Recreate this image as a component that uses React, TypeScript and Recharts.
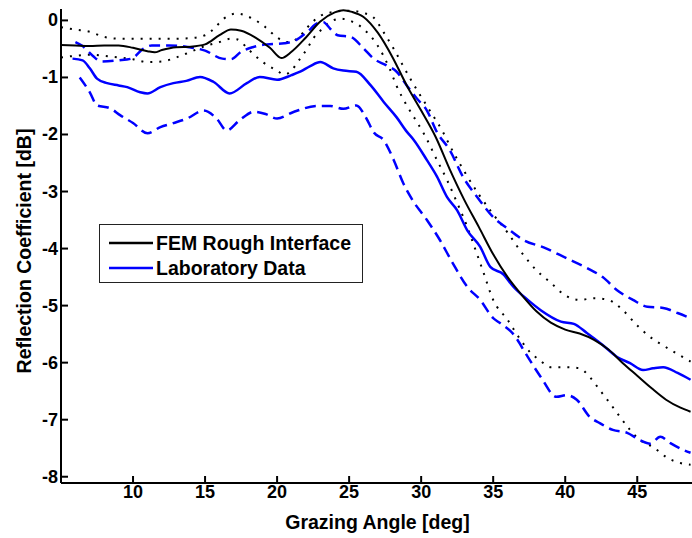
import React from 'react';
import { LineChart, Line, XAxis, YAxis, Legend, Label } from 'recharts';

// ---- data: [grazing angle (deg), reflection coefficient (dB)] ----
const femMean: number[][] = [
  [5, -0.43], [6, -0.44], [7, -0.45], [8, -0.44], [9, -0.44], [10, -0.48], [11, -0.54], [11.5, -0.56],
  [12, -0.52], [13, -0.47], [14, -0.46], [15, -0.42], [16, -0.26], [16.8, -0.16], [17.5, -0.18],
  [18.5, -0.3], [19.5, -0.48], [20.3, -0.66], [21, -0.55], [22, -0.3], [23, -0.02], [24, 0.14],
  [24.6, 0.18], [25.2, 0.15], [26, 0.06], [27, -0.22], [28, -0.64], [29, -1.14], [30, -1.58],
  [31, -2.04], [32, -2.62], [33, -3.15], [34, -3.62], [35, -4.1], [36, -4.5], [37, -4.82],
  [38, -5.1], [39, -5.3], [40, -5.42], [41, -5.49], [42, -5.6], [43, -5.77], [44, -6.01],
  [45, -6.23], [46, -6.45], [47, -6.65], [48, -6.79], [48.7, -6.86],
];
const femUpper: number[][] = [
  [5, -0.12], [6, -0.16], [7, -0.2], [8, -0.29], [9, -0.32], [11, -0.32], [13, -0.32], [14, -0.31],
  [15, -0.26], [15.6, -0.15], [16.3, 0.03], [17.2, 0.12], [18.3, 0.03], [19.2, -0.12], [20, -0.3],
  [20.7, -0.38], [21.5, -0.3], [22, -0.15], [22.5, -0.02], [23, 0.08], [24, 0.15], [25, 0.17],
  [26, 0.13], [26.7, 0.05], [27.4, -0.21], [28.1, -0.5], [28.75, -0.8], [29.4, -1.09], [30.1, -1.38],
  [30.8, -1.66], [31.5, -1.95], [32, -2.2], [33, -2.65], [34, -3.05], [35, -3.4], [36, -3.72],
  [37, -4.08], [38, -4.38], [39, -4.6], [40, -4.82], [41, -4.9], [42, -4.87], [43, -4.9],
  [44, -5.08], [45, -5.35], [46, -5.57], [47, -5.73], [48, -5.88], [48.7, -5.98],
];
const femLower: number[][] = [
  [5, -0.65], [6, -0.62], [7, -0.6], [8, -0.62], [9, -0.65], [10, -0.68], [11, -0.73], [12, -0.72],
  [13, -0.65], [14, -0.55], [15, -0.45], [16, -0.38], [16.8, -0.32], [17.2, -0.33], [18.1, -0.53],
  [19, -0.73], [20, -0.88], [20.5, -0.95], [21, -0.88], [21.4, -0.74], [22.1, -0.49], [22.5, -0.32],
  [23, -0.18], [23.5, -0.06], [24.4, 0.03], [25, 0.0], [26, -0.15], [27, -0.45], [27.8, -0.84],
  [28.3, -1.15], [29, -1.49], [29.7, -1.78], [30.2, -1.99], [31.1, -2.45], [31.8, -2.8],
  [32.5, -3.2], [33.2, -3.62], [33.6, -3.9], [34.3, -4.4], [35, -4.9], [36, -5.25], [36.9, -5.6],
  [37.6, -5.83], [38.2, -5.95], [39, -6.08], [40.1, -6.08], [41, -6.1], [41.7, -6.25], [42.4, -6.48],
  [43.1, -6.71], [43.8, -6.95], [44.5, -7.18], [45.2, -7.36], [46.1, -7.48], [47.1, -7.67],
  [48, -7.76], [48.7, -7.79],
];
const labMean: number[][] = [
  [5.8, -0.67], [6.5, -0.7], [7, -0.84], [7.5, -1.02], [8.2, -1.1], [9, -1.14], [9.6, -1.17],
  [10.5, -1.26], [11, -1.28], [11.9, -1.17], [12.8, -1.1], [13.7, -1.06], [14.65, -0.99],
  [15.6, -1.08], [16.7, -1.28], [17.9, -1.1], [18.8, -0.99], [20, -1.04], [21, -0.96], [21.6, -0.9],
  [22.3, -0.8], [23, -0.73], [23.9, -0.84], [24.6, -0.88], [25.5, -0.9], [26.5, -1.14],
  [27.4, -1.43], [28.3, -1.7], [29, -1.95], [29.5, -2.1], [30.4, -2.45], [31.1, -2.74],
  [31.8, -3.1], [32.5, -3.33], [33.2, -3.68], [34.1, -3.97], [34.8, -4.32], [35.7, -4.45],
  [36.4, -4.67], [37.4, -4.9], [38.3, -5.08], [39.7, -5.28], [40.6, -5.32], [41.5, -5.48],
  [42.6, -5.69], [43.6, -5.9], [44.5, -6.01], [45.4, -6.13], [46.1, -6.1], [46.8, -6.08],
  [47.8, -6.18], [48.7, -6.3],
];
const labUpper: number[][] = [
  [6, -0.38], [6.5, -0.45], [7.2, -0.62], [7.8, -0.72], [9, -0.7], [9.9, -0.67], [10.7, -0.5],
  [11.3, -0.44], [12.5, -0.44], [13.9, -0.47], [15, -0.53], [16.2, -0.67], [16.8, -0.68],
  [17.5, -0.55], [18.3, -0.47], [19.3, -0.42], [20.5, -0.4], [21.2, -0.36], [22.1, -0.2],
  [22.8, -0.05], [23.2, -0.03], [23.7, -0.15], [24.2, -0.26], [25.1, -0.29], [26, -0.49],
  [26.7, -0.67], [27.6, -0.79], [28.3, -0.9], [29, -1.14], [29.7, -1.37], [30.4, -1.58],
  [31.1, -1.96], [32, -2.28], [32.9, -2.74], [33.9, -3.1], [35, -3.45], [36, -3.65], [37.1, -3.85],
  [38.5, -3.98], [40.1, -4.17], [41.5, -4.34], [42.6, -4.5], [43.6, -4.73], [44.7, -4.9],
  [45.7, -5.02], [46.8, -5.04], [47.8, -5.13], [48.7, -5.22],
];
const labLower: number[][] = [
  [6.3, -1.0], [7, -1.26], [7.5, -1.49], [8.4, -1.54], [9.1, -1.66], [10, -1.8], [11, -1.98],
  [11.9, -1.87], [12.8, -1.8], [13.75, -1.72], [14.9, -1.58], [15.8, -1.72], [16.5, -1.93],
  [17.4, -1.75], [18.4, -1.6], [19.2, -1.64], [20, -1.72], [21.1, -1.61], [22.8, -1.5],
  [23.7, -1.5], [24.6, -1.55], [25.5, -1.49], [26.2, -1.72], [26.7, -1.96], [27.4, -2.1],
  [28.1, -2.45], [28.75, -2.85], [29.4, -3.15], [30.4, -3.5], [31.3, -3.85], [32.2, -4.26],
  [33.2, -4.67], [34.1, -4.9], [35, -5.22], [35.5, -5.31], [36.4, -5.5], [37.4, -5.9],
  [38.3, -6.25], [39.4, -6.6], [40.1, -6.57], [40.8, -6.65], [41.7, -6.95], [42.4, -7.06],
  [43.3, -7.18], [44.3, -7.23], [45.2, -7.36], [45.9, -7.42], [46.6, -7.3], [47.3, -7.41],
  [48.2, -7.53], [48.7, -7.58],
];

const xTicks = [10, 15, 20, 25, 30, 35, 40, 45];
const yTicks = [0, -1, -2, -3, -4, -5, -6, -7, -8];
const legendItems = [
  { name: 'FEM Rough Interface', color: '#000000' },
  { name: 'Laboratory Data', color: '#0000ff' },
];
const xLabel = 'Grazing Angle [deg]';
const yLabel = 'Reflection Coefficient [dB]';

// ---- styling ----
const FONT = '"Liberation Sans", Arial, Helvetica, sans-serif';
const BLUE = '#0000ff';
const BLACK = '#000000';

const toPts = (a: number[][]) => a.map(([angle, db]) => ({ angle, db }));

const BottomTick = (p: any) => (
  <g>
    <line x1={p.x} x2={p.x} y1={p.y} y2={p.y - 7} stroke={BLACK} strokeWidth={2} />
    <text x={p.x} y={p.y + 15} textAnchor="middle" fontFamily={FONT} fontSize={18} fontWeight="bold" fill={BLACK}>
      {p.payload.value}
    </text>
  </g>
);
const TopTick = (p: any) => (
  <line x1={p.x} x2={p.x} y1={p.y} y2={p.y + 7} stroke={BLACK} strokeWidth={2} />
);
const LeftTick = (p: any) => (
  <g>
    <line x1={p.x} x2={p.x + 7} y1={p.y} y2={p.y} stroke={BLACK} strokeWidth={2} />
    <text x={p.x - 3} y={p.y + 6} textAnchor="end" fontFamily={FONT} fontSize={18} fontWeight="bold" fill={BLACK}>
      {String(p.payload.value)}
    </text>
  </g>
);

const XLabelContent = (props: any) => {
  const vb = props.viewBox || { x: 61, width: 631, y: 483 };
  return (
    <text x={vb.x + vb.width / 2 + 1} y={529} textAnchor="middle" fontFamily={FONT} fontSize={19.5} fontWeight="bold" fill={BLACK}>
      {xLabel}
    </text>
  );
};
const YLabelContent = () => (
  <text x={31} y={251} transform="rotate(-90 31 251)" textAnchor="middle" fontFamily={FONT} fontSize={19.5} fontWeight="bold" fill={BLACK}>
    {yLabel}
  </text>
);

const LegendBox = () => (
  <div
    style={{
      width: 264,
      height: 59,
      boxSizing: 'border-box',
      border: '1px solid #222',
      background: '#fff',
      position: 'relative',
      fontFamily: FONT,
      fontWeight: 'bold',
      fontSize: 19.5,
      color: '#000',
    }}
  >
    {legendItems.map((it, i) => (
      <div
        key={it.name}
        style={{ position: 'absolute', left: 8, top: (i === 0 ? 18 : 43) - 12, height: 24, display: 'flex', alignItems: 'center', whiteSpace: 'nowrap' }}
      >
        <svg width={46} height={24} style={{ display: 'block' }}>
          <line x1={1} x2={45} y1={12} y2={12} stroke={it.color} strokeWidth={2.5} />
        </svg>
        <span style={{ marginLeft: 2, lineHeight: '24px' }}>{it.name}</span>
      </div>
    ))}
  </div>
);

export default function App() {
  return (
    <div style={{ position: 'absolute', left: 0, top: 0, width: 692, height: 538, overflow: 'hidden', background: '#fff' }}>
      <LineChart width={692} height={538} margin={{ top: 9, right: 0, bottom: 0, left: 0 }}>
        <XAxis
          xAxisId="b"
          dataKey="angle"
          type="number"
          domain={[5, 48.8]}
          allowDataOverflow
          ticks={xTicks}
          interval={0}
          height={55}
          tickSize={0}
          tickMargin={0}
          tickLine={false}
          axisLine={{ stroke: BLACK, strokeWidth: 2 }}
          tick={<BottomTick />}
        >
          <Label content={XLabelContent} />
        </XAxis>
        <XAxis
          xAxisId="t"
          orientation="top"
          dataKey="angle"
          type="number"
          domain={[5, 48.8]}
          allowDataOverflow
          ticks={xTicks}
          interval={0}
          height={0}
          tickSize={0}
          tickMargin={0}
          tickLine={false}
          axisLine={{ stroke: BLACK, strokeWidth: 2 }}
          tick={<TopTick />}
        />
        <YAxis
          yAxisId="l"
          dataKey="db"
          type="number"
          domain={[-8.11, 0.2]}
          allowDataOverflow
          ticks={yTicks}
          interval={0}
          width={61}
          tickSize={0}
          tickMargin={0}
          tickLine={false}
          axisLine={{ stroke: BLACK, strokeWidth: 2 }}
          tick={<LeftTick />}
        >
          <Label content={YLabelContent} />
        </YAxis>
        <Legend
          verticalAlign="middle"
          align="center"
          layout="horizontal"
          wrapperStyle={{ left: 99, top: 224, width: 264, height: 59 }}
          content={LegendBox}
        />
        <Line xAxisId="b" yAxisId="l" data={toPts(femUpper)} dataKey="db" type="monotone" stroke={BLACK} strokeWidth={2} strokeDasharray="2 7" dot={false} isAnimationActive={false} legendType="none" />
        <Line xAxisId="b" yAxisId="l" data={toPts(femLower)} dataKey="db" type="monotone" stroke={BLACK} strokeWidth={2} strokeDasharray="2 7" dot={false} isAnimationActive={false} legendType="none" />
        <Line xAxisId="b" yAxisId="l" data={toPts(labUpper)} dataKey="db" type="monotone" stroke={BLUE} strokeWidth={2.5} strokeDasharray="11 6" dot={false} isAnimationActive={false} legendType="none" />
        <Line xAxisId="b" yAxisId="l" data={toPts(labLower)} dataKey="db" type="monotone" stroke={BLUE} strokeWidth={2.5} strokeDasharray="11 6" dot={false} isAnimationActive={false} legendType="none" />
        <Line xAxisId="b" yAxisId="l" data={toPts(labMean)} dataKey="db" name={legendItems[1].name} type="monotone" stroke={BLUE} strokeWidth={2.5} dot={false} isAnimationActive={false} />
        <Line xAxisId="b" yAxisId="l" data={toPts(femMean)} dataKey="db" name={legendItems[0].name} type="monotone" stroke={BLACK} strokeWidth={2} dot={false} isAnimationActive={false} />
      </LineChart>
    </div>
  );
}
